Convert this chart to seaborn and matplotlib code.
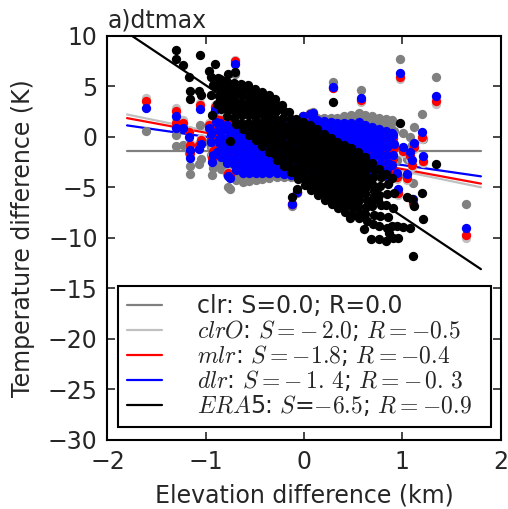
import numpy as np
import pandas as pd
import matplotlib
matplotlib.use("Agg")
import matplotlib.pyplot as plt
import seaborn as sns

nan = np.nan

# ---------------- data ----------------
# station elevation difference (km)
elev = [
    -0.85, -0.83, -0.84, -0.85, -0.83, -0.84,
    -0.78, -0.76, -0.77, -0.78, -0.76, -0.77, -0.78,
    -0.71, -0.69, -0.70, -0.71, -0.69, -0.70, -0.71, -0.69,
    -0.64, -0.62, -0.63, -0.64, -0.62, -0.63, -0.64, -0.62,
    -0.57, -0.55, -0.56, -0.57, -0.55, -0.56, -0.57, -0.55, -0.56,
    -0.50, -0.48, -0.49, -0.50, -0.48, -0.49, -0.50, -0.48, -0.49,
    -0.43, -0.41, -0.42, -0.43, -0.41, -0.42, -0.43, -0.41, -0.42, -0.43,
    -0.36, -0.34, -0.35, -0.36, -0.34, -0.35, -0.36, -0.34, -0.35, -0.36,
    -0.29, -0.27, -0.28, -0.29, -0.27, -0.28, -0.29, -0.27, -0.28, -0.29, -0.27,
    -0.22, -0.20, -0.21, -0.22, -0.20, -0.21, -0.22, -0.20, -0.21, -0.22, -0.20,
    -0.15, -0.13, -0.14, -0.15, -0.13, -0.14, -0.15, -0.13, -0.14, -0.15, -0.13,
    -0.08, -0.06, -0.07, -0.08, -0.06, -0.07, -0.08, -0.06, -0.07, -0.08, -0.06,
    -0.01, 0.01, 0.00, -0.01, 0.01, 0.00, -0.01, 0.01, 0.00, -0.01, 0.01,
    0.06, 0.08, 0.07, 0.06, 0.08, 0.07, 0.06, 0.08, 0.07, 0.06, 0.08, 0.07,
    0.13, 0.15, 0.14, 0.13, 0.15, 0.14, 0.13, 0.15, 0.14, 0.13, 0.15, 0.14,
    0.20, 0.22, 0.21, 0.20, 0.22, 0.21, 0.20, 0.22, 0.21, 0.20, 0.22, 0.21,
    0.27, 0.29, 0.28, 0.27, 0.29, 0.28, 0.27, 0.29, 0.28, 0.27, 0.29, 0.28,
    0.34, 0.36, 0.35, 0.34, 0.36, 0.35, 0.34, 0.36, 0.35, 0.34, 0.36, 0.35,
    0.41, 0.43, 0.42, 0.41, 0.43, 0.42, 0.41, 0.43, 0.42, 0.41, 0.43, 0.42,
    0.48, 0.50, 0.49, 0.48, 0.50, 0.49, 0.48, 0.50, 0.49, 0.48, 0.50, 0.49,
    0.55, 0.57, 0.56, 0.55, 0.57, 0.56, 0.55, 0.57, 0.56, 0.55, 0.57, 0.56,
    0.62, 0.64, 0.63, 0.62, 0.64, 0.63, 0.62, 0.64, 0.63, 0.62, 0.64,
    0.69, 0.71, 0.70, 0.69, 0.71, 0.70, 0.69, 0.71, 0.70,
    0.76, 0.78, 0.77, 0.76, 0.78, 0.77, 0.76,
    0.83, 0.85, 0.84, 0.83, 0.85, 0.84,
    0.90, 0.92, 0.91, 0.90,
    -1.61, -1.30, -1.30, -1.23, -1.17, -1.16, -1.16, -1.06, -1.05, -1.07,
    -0.97, -0.94, -0.95, -0.95, -0.93, -0.91, -0.90, -0.89, -0.87, -0.86,
    -0.75, -0.77, -0.70, -0.80, -0.12, -0.07, 0.30, 0.575, 0.56, 0.09,
    0.75, 0.40, 0.975, 1.345, 1.20, 1.21, 1.12, 1.11, 1.08, 1.05,
    1.01, 0.96, 0.95, 0.91, 0.83, 0.76, 1.65, 1.10, 0.61, 0.47,
    0.68, 0.86,
]

# ERA5 temperature difference (K)
t_era5 = [
    5.7, 5.1, 4.5, 3.8, 3.3, 2.7,
    5.4, 4.8, 4.2, 3.7, 3.1, 2.6, 2.0,
    5.3, 4.7, 4.2, 3.6, 3.0, 2.5, 1.9, 1.3,
    5.2, 4.6, 4.0, 3.3, 2.7, 2.1, 1.4, 0.8,
    5.1, 4.5, 3.9, 3.3, 2.7, 2.1, 1.4, 0.8, 0.2,
    4.7, 4.1, 3.5, 2.9, 2.3, 1.7, 1.1, 0.4, -0.3,
    4.4, 3.8, 3.2, 2.6, 2.0, 1.4, 0.8, 0.2, -0.4, -0.9,
    4.1, 3.5, 2.9, 2.3, 1.7, 1.1, 0.5, -0.2, -0.8, -1.5,
    3.7, 3.1, 2.5, 1.9, 1.3, 0.7, 0.1, -0.5, -1.1, -1.7, -2.3,
    3.1, 2.5, 1.9, 1.3, 0.7, 0.1, -0.5, -1.1, -1.7, -2.3, -2.9,
    2.4, 1.8, 1.2, 0.6, 0.0, -0.6, -1.1, -1.7, -2.3, -2.9, -3.5,
    1.8, 1.2, 0.6, 0.0, -0.6, -1.2, -1.8, -2.4, -3.0, -3.6, -4.2,
    1.5, 0.9, 0.3, -0.3, -0.9, -1.5, -2.1, -2.7, -3.4, -4.1, -4.8,
    1.2, 0.6, 0.0, -0.6, -1.2, -1.8, -2.4, -3.0, -3.6, -4.2, -4.8, -5.3,
    0.8, 0.2, -0.4, -1.0, -1.6, -2.2, -2.8, -3.4, -4.0, -4.6, -5.2, -5.8,
    0.3, -0.3, -0.9, -1.5, -2.1, -2.7, -3.3, -3.9, -4.5, -5.1, -5.7, -6.3,
    -0.1, -0.7, -1.3, -1.9, -2.5, -3.1, -3.7, -4.3, -4.9, -5.5, -6.1, -6.7,
    -0.5, -1.1, -1.7, -2.3, -2.9, -3.5, -4.1, -4.7, -5.3, -5.9, -6.5, -7.1,
    -0.8, -1.4, -2.0, -2.6, -3.2, -3.8, -4.4, -5.0, -5.6, -6.2, -6.8, -7.4,
    -1.1, -1.7, -2.3, -2.9, -3.5, -4.1, -4.7, -5.3, -5.9, -6.5, -7.1, -7.7,
    -1.5, -2.1, -2.7, -3.3, -3.9, -4.5, -5.1, -5.7, -6.3, -6.9, -7.5, -8.0,
    -2.0, -2.6, -3.2, -3.8, -4.4, -5.0, -5.6, -6.3, -7.0, -7.6, -8.3,
    -2.6, -3.3, -4.0, -4.7, -5.4, -6.2, -6.9, -7.7, -8.6,
    -3.2, -4.0, -4.9, -5.8, -6.8, -7.8, -8.8,
    -3.7, -4.7, -5.7, -6.8, -7.9, -9.0,
    -4.1, -5.6, -7.1, -8.8,
    nan, 8.6, 7.7, 7.1, 5.9, 4.5, 3.7, 8.1, 4.1, 4.5,
    6.5, 2.1, 5.9, 4.1, 5.1, 7.2, 5.0, 3.2, 5.8, 4.0,
    -0.4, 6.2, 6.4, 5.5, -6.0, -5.2, 3.4, -4.3, -4.8, -0.8,
    -6.3, -2.8, 1.4, -2.7, -5.6, -8.1, -6.9, -11.8, -9.0, -6.0,
    -8.9, -10.0, -8.8, -10.0, -10.3, -10.1, nan, -6.2, -9.1, -8.0,
    -10.1, -9.5,
]

# clr (constant lapse rate) temperature difference (K)
t_clr = [
    0.2, -0.5, -1.2, -1.9, -2.6, -3.2,
    0.1, -0.5, -1.2, -1.8, -2.4, -3.1, -3.7,
    -0.1, -0.7, -1.3, -1.9, -2.5, -3.1, -3.7, -4.3,
    -0.2, -0.8, -1.4, -2.0, -2.6, -3.2, -3.9, -4.5,
    -0.3, -0.8, -1.3, -1.8, -2.3, -2.9, -3.4, -3.9, -4.4,
    -0.3, -0.8, -1.3, -1.8, -2.3, -2.8, -3.3, -3.8, -4.3,
    -0.2, -0.7, -1.1, -1.6, -2.0, -2.4, -2.9, -3.3, -3.8, -4.2,
    0.0, -0.5, -0.9, -1.4, -1.8, -2.3, -2.7, -3.2, -3.6, -4.1,
    0.3, -0.1, -0.6, -1.0, -1.4, -1.9, -2.3, -2.7, -3.2, -3.6, -4.0,
    0.7, 0.2, -0.3, -0.7, -1.2, -1.6, -2.1, -2.6, -3.0, -3.5, -4.0,
    1.0, 0.5, 0.0, -0.5, -1.0, -1.5, -2.0, -2.5, -3.0, -3.5, -4.0,
    1.6, 1.0, 0.4, -0.2, -0.7, -1.3, -1.9, -2.4, -3.0, -3.6, -4.1,
    2.0, 1.4, 0.8, 0.2, -0.4, -1.0, -1.6, -2.2, -2.8, -3.5, -4.1,
    2.3, 1.7, 1.1, 0.5, -0.1, -0.7, -1.2, -1.8, -2.3, -2.9, -3.5, -4.0,
    1.9, 1.4, 0.8, 0.3, -0.3, -0.8, -1.3, -1.8, -2.3, -2.9, -3.4, -3.9,
    1.9, 1.4, 0.9, 0.3, -0.2, -0.7, -1.2, -1.7, -2.2, -2.7, -3.2, -3.7,
    1.9, 1.4, 0.9, 0.4, -0.1, -0.6, -1.1, -1.6, -2.0, -2.5, -3.0, -3.5,
    1.9, 1.4, 0.9, 0.4, -0.1, -0.5, -1.0, -1.5, -1.9, -2.4, -2.9, -3.3,
    2.0, 1.5, 1.0, 0.5, 0.1, -0.4, -0.8, -1.3, -1.7, -2.2, -2.7, -3.1,
    2.1, 1.6, 1.2, 0.7, 0.3, -0.2, -0.6, -1.1, -1.5, -2.0, -2.4, -2.9,
    2.1, 1.6, 1.2, 0.7, 0.3, -0.2, -0.6, -1.0, -1.5, -1.9, -2.4, -2.8,
    2.1, 1.6, 1.1, 0.6, 0.1, -0.3, -0.8, -1.3, -1.8, -2.2, -2.7,
    2.0, 1.4, 0.8, 0.3, -0.3, -0.9, -1.4, -2.0, -2.6,
    1.9, 1.2, 0.5, -0.2, -0.9, -1.6, -2.4,
    1.8, 1.0, 0.2, -0.6, -1.4, -2.1,
    1.7, 0.6, -0.5, -1.5,
    0.6, 0.2, -0.9, -0.8, -1.6, -2.9, -3.7, 1.2, -2.2, -2.7,
    -0.5, -3.8, -1.0, -1.8, -3.1, 1.3, 0.2, -2.7, -0.5, -1.4,
    -5.2, -5.0, 6.2, -3.1, -6.9, -5.6, 5.4, 4.6, 2.3, 2.4,
    1.7, 1.7, 7.7, 5.9, 2.2, -0.2, 1.0, -4.6, 0.0, -2.2,
    0.4, -3.9, -2.3, 1.5, 1.2, 1.6, -6.7, -0.8, -0.3, 0.2,
    -1.3, -2.8,
]

# clrO temperature difference (K)
t_clro = [
    1.9, 1.2, 0.5, -0.2, -0.9, -1.5,
    1.7, 1.1, 0.4, -0.2, -0.8, -1.5, -2.1,
    1.3, 0.7, 0.1, -0.5, -1.1, -1.7, -2.3, -2.9,
    1.1, 0.5, -0.1, -0.7, -1.3, -1.9, -2.6, -3.2,
    0.8, 0.3, -0.2, -0.7, -1.2, -1.8, -2.3, -2.8, -3.3,
    0.7, 0.2, -0.3, -0.8, -1.3, -1.8, -2.3, -2.8, -3.3,
    0.7, 0.2, -0.2, -0.7, -1.1, -1.5, -2.0, -2.4, -2.9, -3.3,
    0.7, 0.2, -0.2, -0.7, -1.1, -1.6, -2.0, -2.5, -2.9, -3.4,
    0.9, 0.5, 0.0, -0.4, -0.8, -1.3, -1.7, -2.1, -2.6, -3.0, -3.4,
    1.1, 0.6, 0.1, -0.3, -0.8, -1.2, -1.7, -2.2, -2.6, -3.1, -3.6,
    1.3, 0.8, 0.3, -0.2, -0.7, -1.2, -1.7, -2.2, -2.7, -3.2, -3.7,
    1.7, 1.1, 0.5, -0.1, -0.6, -1.2, -1.8, -2.3, -2.9, -3.5, -4.0,
    2.0, 1.4, 0.8, 0.2, -0.4, -1.0, -1.6, -2.2, -2.8, -3.5, -4.1,
    2.2, 1.6, 1.0, 0.4, -0.2, -0.8, -1.3, -1.9, -2.4, -3.0, -3.6, -4.1,
    1.6, 1.1, 0.5, 0.0, -0.6, -1.1, -1.6, -2.1, -2.6, -3.2, -3.7, -4.2,
    1.5, 1.0, 0.5, -0.1, -0.6, -1.1, -1.6, -2.1, -2.6, -3.1, -3.6, -4.1,
    1.3, 0.8, 0.3, -0.2, -0.7, -1.2, -1.7, -2.2, -2.6, -3.1, -3.6, -4.1,
    1.2, 0.7, 0.2, -0.3, -0.8, -1.2, -1.7, -2.2, -2.6, -3.1, -3.6, -4.0,
    1.1, 0.6, 0.1, -0.4, -0.8, -1.3, -1.7, -2.2, -2.6, -3.1, -3.6, -4.0,
    1.1, 0.6, 0.2, -0.3, -0.7, -1.2, -1.6, -2.1, -2.5, -3.0, -3.4, -3.9,
    1.0, 0.5, 0.1, -0.4, -0.8, -1.3, -1.7, -2.1, -2.6, -3.0, -3.5, -3.9,
    0.8, 0.3, -0.2, -0.7, -1.2, -1.6, -2.1, -2.6, -3.1, -3.5, -4.0,
    0.6, 0.0, -0.6, -1.1, -1.7, -2.3, -2.8, -3.4, -4.0,
    0.3, -0.4, -1.1, -1.8, -2.5, -3.2, -4.0,
    0.1, -0.7, -1.5, -2.3, -3.1, -3.8,
    -0.1, -1.2, -2.3, -3.3,
    3.8, 2.8, 1.7, 1.7, 0.7, -0.6, -1.4, 3.3, -0.1, -0.6,
    1.4, -1.9, 0.9, 0.1, -1.2, 3.1, 2.0, -0.9, 1.2, 0.3,
    -3.7, -3.5, 7.6, -1.5, -6.7, -5.5, 4.8, 3.4, 1.2, 2.2,
    0.2, 0.9, 5.7, 3.2, -0.2, -2.6, -1.2, -6.8, -2.2, -4.3,
    -1.6, -5.8, -4.2, -0.3, -0.5, 0.1, -10.0, -3.0, -1.5, -0.7,
    -2.7, -4.5,
]

# mlr temperature difference (K)
t_mlr = [
    1.7, 1.0, 0.3, -0.4, -1.1, -1.7,
    1.5, 0.9, 0.2, -0.4, -1.0, -1.7, -2.3,
    1.2, 0.6, 0.0, -0.6, -1.2, -1.8, -2.4, -3.0,
    1.0, 0.4, -0.2, -0.8, -1.4, -2.0, -2.7, -3.3,
    0.7, 0.2, -0.3, -0.8, -1.3, -1.9, -2.4, -2.9, -3.4,
    0.6, 0.1, -0.4, -0.9, -1.4, -1.9, -2.4, -2.9, -3.4,
    0.6, 0.1, -0.3, -0.8, -1.2, -1.6, -2.1, -2.5, -3.0, -3.4,
    0.6, 0.1, -0.3, -0.8, -1.2, -1.7, -2.1, -2.6, -3.0, -3.5,
    0.8, 0.4, -0.1, -0.5, -0.9, -1.4, -1.8, -2.2, -2.7, -3.1, -3.5,
    1.1, 0.6, 0.1, -0.3, -0.8, -1.2, -1.7, -2.2, -2.6, -3.1, -3.6,
    1.3, 0.8, 0.3, -0.2, -0.7, -1.2, -1.7, -2.2, -2.7, -3.2, -3.7,
    1.7, 1.1, 0.5, -0.1, -0.6, -1.2, -1.8, -2.3, -2.9, -3.5, -4.0,
    2.0, 1.4, 0.8, 0.2, -0.4, -1.0, -1.6, -2.2, -2.8, -3.5, -4.1,
    2.2, 1.6, 1.0, 0.4, -0.2, -0.8, -1.3, -1.9, -2.4, -3.0, -3.6, -4.1,
    1.6, 1.1, 0.5, 0.0, -0.6, -1.1, -1.6, -2.1, -2.6, -3.2, -3.7, -4.2,
    1.5, 1.0, 0.5, -0.1, -0.6, -1.1, -1.6, -2.1, -2.6, -3.1, -3.6, -4.1,
    1.4, 0.9, 0.4, -0.1, -0.6, -1.1, -1.6, -2.1, -2.5, -3.0, -3.5, -4.0,
    1.3, 0.8, 0.3, -0.2, -0.7, -1.1, -1.6, -2.1, -2.5, -3.0, -3.5, -3.9,
    1.2, 0.7, 0.2, -0.3, -0.7, -1.2, -1.6, -2.1, -2.5, -3.0, -3.5, -3.9,
    1.2, 0.7, 0.3, -0.2, -0.6, -1.1, -1.5, -2.0, -2.4, -2.9, -3.3, -3.8,
    1.1, 0.6, 0.2, -0.3, -0.7, -1.2, -1.6, -2.0, -2.5, -2.9, -3.4, -3.8,
    0.9, 0.4, -0.1, -0.6, -1.1, -1.5, -2.0, -2.5, -3.0, -3.4, -3.9,
    0.7, 0.1, -0.5, -1.0, -1.6, -2.2, -2.7, -3.3, -3.9,
    0.5, -0.2, -0.9, -1.6, -2.3, -3.0, -3.8,
    0.3, -0.5, -1.3, -2.1, -2.9, -3.6,
    0.0, -1.1, -2.2, -3.2,
    3.5, 2.5, 1.4, 1.4, 0.5, -0.8, -1.6, 3.1, -0.3, -0.8,
    1.2, -2.1, 0.7, -0.1, -1.4, 2.9, 1.8, -1.1, 1.1, 0.1,
    -3.8, -3.6, 7.5, -1.7, -6.7, -5.5, 4.8, 3.6, 1.3, 2.2,
    0.3, 1.0, 5.9, 3.5, 0.0, -2.4, -1.0, -6.6, -1.9, -4.1,
    -1.4, -5.6, -4.0, -0.1, -0.3, 0.2, -9.7, -2.8, -1.4, -0.6,
    -2.5, -4.3,
]

# dlr temperature difference (K)
t_dlr = [
    1.4, 0.7, 0.0, -0.7, -1.4, -2.0,
    1.2, 0.6, -0.1, -0.7, -1.3, -2.0, -2.6,
    0.9, 0.3, -0.3, -0.9, -1.5, -2.1, -2.7, -3.3,
    0.7, 0.1, -0.5, -1.1, -1.7, -2.3, -3.0, -3.6,
    0.5, 0.0, -0.5, -1.0, -1.5, -2.1, -2.6, -3.1, -3.6,
    0.4, -0.1, -0.6, -1.1, -1.6, -2.1, -2.6, -3.1, -3.6,
    0.4, -0.1, -0.5, -1.0, -1.4, -1.8, -2.3, -2.7, -3.2, -3.6,
    0.5, 0.0, -0.4, -0.9, -1.3, -1.8, -2.2, -2.7, -3.1, -3.6,
    0.7, 0.3, -0.2, -0.6, -1.0, -1.5, -1.9, -2.3, -2.8, -3.2, -3.6,
    1.0, 0.5, 0.0, -0.4, -0.9, -1.3, -1.8, -2.3, -2.7, -3.2, -3.7,
    1.2, 0.7, 0.2, -0.3, -0.8, -1.3, -1.8, -2.3, -2.8, -3.3, -3.8,
    1.7, 1.1, 0.5, -0.1, -0.6, -1.2, -1.8, -2.3, -2.9, -3.5, -4.0,
    2.0, 1.4, 0.8, 0.2, -0.4, -1.0, -1.6, -2.2, -2.8, -3.5, -4.1,
    2.2, 1.6, 1.0, 0.4, -0.2, -0.8, -1.3, -1.9, -2.4, -3.0, -3.6, -4.1,
    1.7, 1.2, 0.6, 0.1, -0.5, -1.0, -1.5, -2.0, -2.5, -3.1, -3.6, -4.1,
    1.6, 1.1, 0.6, 0.0, -0.5, -1.0, -1.5, -2.0, -2.5, -3.0, -3.5, -4.0,
    1.5, 1.0, 0.5, 0.0, -0.5, -1.0, -1.5, -2.0, -2.4, -2.9, -3.4, -3.9,
    1.4, 0.9, 0.4, -0.1, -0.6, -1.0, -1.5, -2.0, -2.4, -2.9, -3.4, -3.8,
    1.4, 0.9, 0.4, -0.1, -0.5, -1.0, -1.4, -1.9, -2.3, -2.8, -3.3, -3.7,
    1.4, 0.9, 0.5, 0.0, -0.4, -0.9, -1.3, -1.8, -2.2, -2.7, -3.1, -3.6,
    1.3, 0.8, 0.4, -0.1, -0.5, -1.0, -1.4, -1.8, -2.3, -2.7, -3.2, -3.6,
    1.2, 0.7, 0.2, -0.3, -0.8, -1.2, -1.7, -2.2, -2.7, -3.1, -3.6,
    1.0, 0.4, -0.2, -0.7, -1.3, -1.9, -2.4, -3.0, -3.6,
    0.8, 0.1, -0.6, -1.3, -2.0, -2.7, -3.5,
    0.6, -0.2, -1.0, -1.8, -2.6, -3.3,
    0.4, -0.7, -1.8, -2.8,
    2.8, 2.0, 0.9, 0.9, 0.0, -1.3, -2.1, 2.7, -0.7, -1.2,
    0.9, -2.5, 0.3, -0.5, -1.8, 2.6, 1.5, -1.5, 0.7, -0.2,
    -4.1, -3.9, 7.2, -2.0, -6.7, -5.5, 4.9, 3.8, 1.5, 2.3,
    0.6, 1.1, 6.3, 4.0, 0.5, -1.9, -0.6, -6.2, -1.5, -3.7,
    -1.0, -5.2, -3.6, 0.2, 0.0, 0.5, -9.0, -2.3, -1.2, -0.5,
    -2.3, -4.0,
]

# regression lines (legend slopes S, common intercept)
line_labels = [
    "clr: S=0.0; R=0.0",
    r"$clrO$: $S=-\,2.0$; $R=-0.5$",
    r"$mlr$: $S=-1.8$; $R=-0.4$",
    r"$dlr$: $S=-\,1.\,4$; $R=-\,0.\,3$",
    r"$ERA$5: $S$=$-6.5$; $R=-0.9$",
]
line_slopes = [0.0, -2.0, -1.8, -1.4, -6.5]
line_intercepts = [-1.4, -1.4, -1.4, -1.4, -1.4]
line_colors = ["gray", "silver", "red", "blue", "black"]
line_xrange = [-1.8, 1.8]

# ---------------- build table ----------------
cols = {"elev": elev, "era5": t_era5, "clr": t_clr, "clro": t_clro,
        "mlr": t_mlr, "dlr": t_dlr}
lens = {k: len(v) for k, v in cols.items()}
if len(set(lens.values())) != 1:
    raise ValueError(str(lens))
df = pd.DataFrame(cols)

# ---------------- style ----------------
sns.set_style("ticks")
plt.rcParams["font.family"] = ["DejaVu Sans"]
plt.rcParams["mathtext.fontset"] = "cm"
plt.rcParams["axes.unicode_minus"] = True

fig = plt.figure(figsize=(5.08, 5.09), dpi=100)
ax = fig.add_axes([0.2114, 0.1356, 0.7740, 0.7944])

# lines (below the dots)
xs = np.array(line_xrange)
for lab, col, s, b in zip(line_labels, line_colors, line_slopes, line_intercepts):
    ldf = pd.DataFrame({"x": xs, "y": b + s * xs})
    sns.lineplot(data=ldf, x="x", y="y", color=col, lw=1.6, label=lab,
                 ax=ax, zorder=1, sort=False)

# dots
for name, col in [("clr", "gray"), ("clro", "silver"), ("mlr", "red"),
                  ("dlr", "blue"), ("era5", "black")]:
    sns.scatterplot(data=df, x="elev", y=name, color=col, s=45, linewidth=0,
                    ax=ax, zorder=3, legend=False)

ax.set_xlim(-2, 2)
ax.set_ylim(-30, 10)
ax.set_xticks([-2, -1, 0, 1, 2])
ax.set_yticks(list(range(-30, 11, 5)))
ax.set_xlabel("Elevation difference (km)", fontsize=17, labelpad=7)
ax.set_ylabel("Temperature difference (K)", fontsize=17, labelpad=9)
ax.set_title("a)dtmax", loc="left", fontsize=17)
ax.tick_params(direction="in", length=6, width=1.2, labelsize=17,
               top=True, right=True, pad=7)
for sp in ax.spines.values():
    sp.set_linewidth(1.5)
    sp.set_color("black")

leg = ax.legend(loc="lower left", bbox_to_anchor=(0.0277, 0.033, 0.9473, 0.3),
                mode="expand", fontsize=17, frameon=True, fancybox=False,
                framealpha=1, edgecolor="black", borderaxespad=0,
                handlelength=1.5, handletextpad=1.5, labelspacing=0.0,
                borderpad=0.35)
leg.get_frame().set_linewidth(1.5)
leg.set_zorder(10)

fig.savefig("out.png", dpi=100)
